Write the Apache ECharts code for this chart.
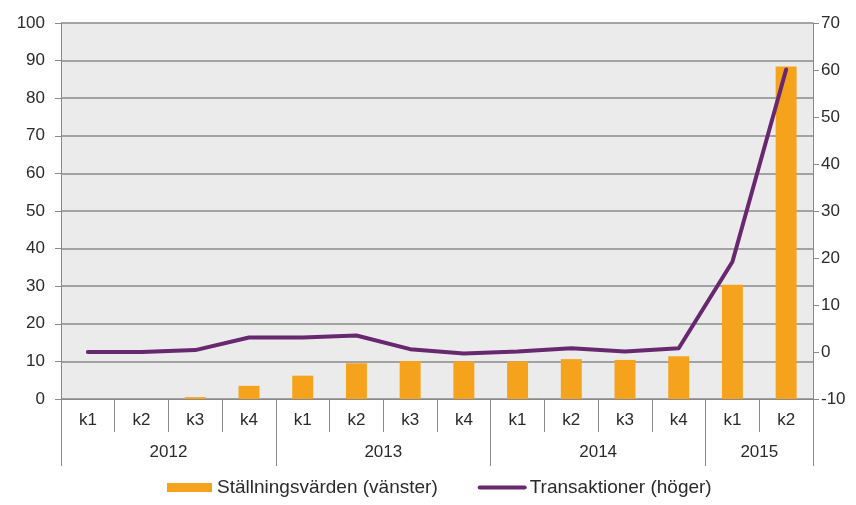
<!DOCTYPE html>
<html>
<head>
<meta charset="utf-8">
<script src="https://cdn.jsdelivr.net/npm/echarts@6/dist/echarts.min.js"></script>
<style>
  html, body { margin: 0; padding: 0; background: #fff; }
  #chart { width: 856px; height: 505px; }
</style>
</head>
<body>
<div id="chart"></div>
<script>
// kvartal per år
var quarters = ['k1', 'k2', 'k3', 'k4', 'k1', 'k2', 'k3', 'k4', 'k1', 'k2', 'k3', 'k4', 'k1', 'k2'];
var years = ['2012', '2013', '2014', '2015'];
var yearBounds = [0, 4, 8, 12, 14];   // where each year's group starts/ends (in quarters)
var yearCenters = [2, 6, 10, 13];

var positions = [0, 0, 0.5, 3.5, 6.2, 9.5, 10.1, 10, 10, 10.6, 10.4, 11.4, 30.4, 88.4];
var transactions = [0, 0, 0.4, 3.1, 3.1, 3.5, 0.6, -0.3, 0.1, 0.8, 0.1, 0.8, 19.2, 60.1];

var chart = echarts.init(document.getElementById('chart'));
var font = 'Liberation Sans, Arial, sans-serif';
var gridColor = '#8a8a8a';
var textColor = '#2b2b2b';

var option = {
  animation: false,
  grid: {
    left: 61, right: 43, top: 23, bottom: 106,
    show: true, backgroundColor: '#ebebeb', borderWidth: 0
  },
  legend: {
    bottom: 3,
    left: 162,
    itemGap: 40,
    itemWidth: 45,
    itemHeight: 9,
    textStyle: { fontFamily: font, fontSize: 19, color: textColor },
    data: [
      { name: 'Ställningsvärden (vänster)', icon: 'rect' },
      { name: 'Transaktioner (höger)', itemStyle: { opacity: 0 }, lineStyle: { width: 4 } }
    ]
  },
  xAxis: [
    {
      type: 'category',
      data: quarters,
      axisLine: { lineStyle: { color: gridColor } },
      axisTick: { show: true, interval: 0, length: 33, lineStyle: { color: gridColor } },
      axisLabel: { interval: 0, margin: 13, fontFamily: font, fontSize: 17, color: textColor }
    },
    {
      type: 'value',
      min: 0, max: 14,
      position: 'bottom',
      offset: 33,
      axisLine: { show: false, onZero: false },
      splitLine: { show: false },
      axisTick: { show: true, length: 34, customValues: yearBounds, lineStyle: { color: gridColor } },
      axisLabel: {
        customValues: yearCenters,
        margin: 12,
        fontFamily: font, fontSize: 17, color: textColor,
        formatter: function (v) { return years[yearCenters.indexOf(v)]; }
      }
    }
  ],
  yAxis: [
    {
      type: 'value',
      min: 0, max: 100, interval: 10,
      axisLine: { show: true, lineStyle: { color: gridColor } },
      axisTick: { show: true, length: 6, lineStyle: { color: gridColor } },
      splitLine: { lineStyle: { color: gridColor, width: 1.5 } },
      axisLabel: { margin: 16, fontFamily: font, fontSize: 17, color: textColor }
    },
    {
      type: 'value',
      min: -10, max: 70, interval: 10,
      position: 'right',
      axisLine: { show: true, lineStyle: { color: gridColor } },
      axisTick: { show: true, length: 6, lineStyle: { color: gridColor } },
      splitLine: { show: false },
      axisLabel: { margin: 8, fontFamily: font, fontSize: 17, color: textColor }
    }
  ],
  series: [
    {
      name: 'Ställningsvärden (vänster)',
      type: 'bar',
      data: positions,
      barWidth: '39%',
      itemStyle: { color: '#f5a31c' }
    },
    {
      name: 'Transaktioner (höger)',
      type: 'line',
      yAxisIndex: 1,
      data: transactions,
      symbol: 'none',
      lineStyle: { color: '#67286f', width: 4, join: 'round', cap: 'round' },
      itemStyle: { color: '#67286f' }
    }
  ]
};

chart.setOption(option);
</script>
</body>
</html>
